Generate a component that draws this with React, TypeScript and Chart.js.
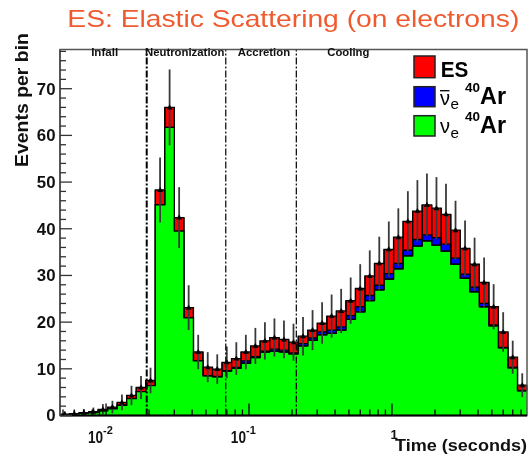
import React, { useEffect, useRef } from 'react';
import { Chart, registerables } from 'chart.js';

Chart.register(...registerables);

// ---------------- data ----------------
const binsPerDecade = 15;
const firstEdgeLog10 = -2.322;

// green: nu_e 40Ar
const nueAr = [
  0.2, 0.3, 0.45, 0.6, 1.0, 1.4, 2.2, 3.6, 5.1, 6.4,
  45.1, 61.7, 39.5, 20.9, 11.7, 8.5, 8.3, 9.5, 10.1, 11.2,
  12.4, 13.6, 13.8, 13.6, 13.2, 14.9, 16.1, 17.3, 17.6, 18.3,
  20.6, 22.2, 24.6, 26.9, 29.2, 31.4, 34.2, 36.3, 37.4, 36.5,
  35.2, 32.4, 29.4, 26.5, 23.3, 19.2, 14.5, 10.2, 5.3,
];
// blue: anti-nu_e 40Ar
const nuebarAr = [
  0, 0, 0, 0, 0, 0, 0, 0, 0, 0,
  0, 0, 0, 0, 0, 0.05, 0.05, 0.1, 0.2, 0.5,
  0.2, 0.2, 0.4, 0.4, 0.2, 0.5, 0.5, 0.6, 0.7, 0.7,
  0.8, 1.1, 1.1, 1.0, 1.2, 1.2, 1.2, 1.4, 1.3, 1.6,
  1.5, 1.3, 0.9, 1.0, 0.7, 0.2, 0.1, 0.1, 0.05,
];
// red: ES
const esElectron = [
  0.1, 0.1, 0.15, 0.2, 0.3, 0.4, 0.6, 0.7, 0.9, 1.1,
  3.2, 4.3, 2.9, 2.2, 1.9, 1.8, 1.6, 1.8, 1.9, 1.9,
  2.3, 2.2, 2.5, 2.3, 2.3, 1.6, 1.7, 1.9, 3.0, 3.4,
  3.2, 3.9, 4.2, 4.7, 5.2, 5.6, 6.2, 6.1, 6.4, 6.3,
  6.4, 6.0, 5.5, 4.9, 4.5, 3.9, 3.3, 2.2, 1.15,
];

const yMax = 78.4;
const yTickValues = [0, 10, 20, 30, 40, 50, 60, 70];
const xMajorTicks = [0.01, 0.1, 1];
const xTickBase = ['10', '10', '1'];
const xTickExp = ['-2', '-1', ''];
const stageBoundaries = [0.01926, 0.0688, 0.2143];
const stageNames = ['Infall', 'Neutronization', 'Accretion', 'Cooling'];
const stageNameX = [0.00978, 0.0355, 0.1273, 0.495];

const titleText = 'ES: Elastic Scattering (on electrons)';
const xTitle = 'Time (seconds)';
const yTitle = 'Events per bin';

// ---------------- derived ----------------
const nBins = nueAr.length;
const edges = Array.from({ length: nBins + 1 }, (_, k) => Math.pow(10, firstEdgeLog10 + k / binsPerDecade));
const cumG = nueAr.slice();
const cumB = nueAr.map((v, i) => v + nuebarAr[i]);
const cumT = cumB.map((v, i) => v + esElectron[i]);
const toSteps = (vals: number[]) => [
  ...vals.map((v, i) => ({ x: edges[i], y: v })),
  { x: edges[nBins], y: vals[nBins - 1] },
];

const FONT = "'Liberation Sans', Arial, Helvetica, sans-serif";

function drawText(
  ctx: CanvasRenderingContext2D, s: string, x: number, y: number, font: string, color: string,
  align: 'left' | 'center' | 'right', width?: number, sx = 1,
) {
  ctx.save();
  ctx.font = font;
  ctx.fillStyle = color;
  ctx.textAlign = 'left';
  ctx.textBaseline = 'alphabetic';
  const m = ctx.measureText(s).width;
  const k = width ? width / m : sx;
  const w = m * k;
  const left = align === 'left' ? x : align === 'center' ? x - w / 2 : x - w;
  ctx.translate(left, y);
  ctx.scale(k, 1);
  ctx.fillText(s, 0, 0);
  ctx.restore();
}

const decorPlugin = {
  id: 'decor',
  afterDatasetsDraw(chart: any) {
    const { ctx, chartArea: a } = chart;
    const xs = chart.scales.x;
    const ys = chart.scales.y;
    const px = (v: number) => xs.getPixelForValue(v);
    const py = (v: number) => ys.getPixelForValue(v);

    ctx.save();
    // box edges for red and blue parts
    ctx.strokeStyle = '#000';
    ctx.lineWidth = 1.2;
    for (let k = 0; k < nBins; k++) {
      const x0 = px(edges[k]);
      const x1 = px(edges[k + 1]);
      if (esElectron[k] > 0) {
        ctx.beginPath();
        ctx.moveTo(x0, py(cumB[k])); ctx.lineTo(x0, py(cumT[k]));
        ctx.moveTo(x1, py(cumB[k])); ctx.lineTo(x1, py(cumT[k]));
        ctx.stroke();
      }
      if (nuebarAr[k] > 0) {
        ctx.beginPath();
        ctx.moveTo(x0, py(cumG[k])); ctx.lineTo(x0, py(cumB[k]));
        ctx.moveTo(x1, py(cumG[k])); ctx.lineTo(x1, py(cumB[k]));
        ctx.stroke();
        ctx.beginPath();
        ctx.moveTo(x0, py(cumG[k])); ctx.lineTo(x1, py(cumG[k]));
        ctx.stroke();
      }
    }

    // error bars + markers
    for (let k = 0; k < nBins; k++) {
      const T = cumT[k];
      const e = Math.sqrt(T);
      const cx = px(Math.sqrt(edges[k] * edges[k + 1]));
      const y1 = Math.max(a.top, py(T + e));
      const y2 = Math.min(a.bottom, py(Math.max(0, T - e)));
      ctx.strokeStyle = '#3a3a3a';
      ctx.lineWidth = 1.8;
      ctx.beginPath();
      ctx.moveTo(cx, y1); ctx.lineTo(cx, y2);
      ctx.stroke();
      const yt = py(T);
      ctx.fillStyle = '#000';
      ctx.beginPath();
      ctx.moveTo(cx, yt - 3);
      ctx.lineTo(cx + 3, yt + 2);
      ctx.lineTo(cx - 3, yt + 2);
      ctx.closePath();
      ctx.fill();
    }

    // stage boundary lines
    stageBoundaries.forEach((v, i) => {
      const x = px(v);
      ctx.strokeStyle = '#000';
      ctx.lineWidth = i === 0 ? 2 : 1.2;
      ctx.setLineDash([7, 2, 2, 2]);
      ctx.beginPath();
      ctx.moveTo(x, a.bottom); ctx.lineTo(x, a.top);
      ctx.stroke();
    });
    ctx.setLineDash([]);

    // frame
    ctx.strokeStyle = '#555';
    ctx.lineWidth = 1.5;
    ctx.strokeRect(a.left, a.top, a.right - a.left, a.bottom - a.top);
    ctx.strokeStyle = '#555';
    ctx.lineWidth = 2;
    ctx.beginPath(); ctx.moveTo(a.left, a.top); ctx.lineTo(a.left, a.bottom); ctx.stroke();
    ctx.strokeStyle = '#000';
    ctx.beginPath(); ctx.moveTo(a.left, a.bottom); ctx.lineTo(a.right, a.bottom); ctx.stroke();

    // y ticks
    ctx.strokeStyle = '#333';
    ctx.lineWidth = 1.3;
    for (let v = 0; v <= yMax; v += 2) {
      const len = v % 10 === 0 ? 12 : 6;
      const y = py(v);
      ctx.beginPath(); ctx.moveTo(a.left, y); ctx.lineTo(a.left + len, y); ctx.stroke();
    }
    // x ticks
    ctx.strokeStyle = '#000';
    for (let d = -3; d <= 1; d++) {
      for (let m = 1; m <= 9; m++) {
        const v = m * Math.pow(10, d);
        if (v < edges[0] || v > edges[nBins]) continue;
        const len = m === 1 ? 12 : 6;
        const x = px(v);
        ctx.beginPath(); ctx.moveTo(x, a.bottom); ctx.lineTo(x, a.bottom - len); ctx.stroke();
      }
    }

    // y tick labels
    yTickValues.forEach((v) => {
      drawText(ctx, String(v), a.left - 4.5, py(v) + 5.8, `bold 16px ${FONT}`, '#111', 'right', undefined, 1.05);
    });
    // x tick labels
    xMajorTicks.forEach((v, i) => {
      const x = px(v);
      if (xTickExp[i]) {
        drawText(ctx, xTickBase[i], x - 3, 442.5, `bold 17px ${FONT}`, '#111', 'right', undefined, 0.8);
        drawText(ctx, xTickExp[i], x - 3, 433.5, `bold 11px ${FONT}`, '#111', 'left');
      } else {
        drawText(ctx, xTickBase[i], x - 1.5, 439, `bold 13px ${FONT}`, '#111', 'left');
      }
    });

    // axis titles
    drawText(ctx, xTitle, 527, 451, `bold 17px ${FONT}`, '#111', 'right', 132);
    ctx.save();
    ctx.translate(28, 100);
    ctx.rotate(-Math.PI / 2);
    drawText(ctx, yTitle, 0, 0, `bold 18px ${FONT}`, '#111', 'center', 134);
    ctx.restore();

    // stage names
    const stageW = [27, 79.4, 52.3, 42.1];
    stageNames.forEach((s, i) => {
      drawText(ctx, s, px(stageNameX[i]), 55.7, `bold 10px ${FONT}`, '#111', 'center', stageW[i]);
    });

    // main title
    drawText(ctx, titleText, 67.3, 26.7, `24px ${FONT}`, '#EF5B2F', 'left', 452);

    // legend
    const boxes: [string, number, number][] = [
      ['#ff0000', 56, 77.7],
      ['#0000ff', 86.7, 106.7],
      ['#00ff00', 115.7, 136],
    ];
    boxes.forEach(([c, t, b]) => {
      ctx.fillStyle = c;
      ctx.fillRect(414, t, 21, b - t);
      ctx.strokeStyle = '#222';
      ctx.lineWidth = 1.5;
      ctx.strokeRect(414, t, 21, b - t);
    });
    drawText(ctx, 'ES', 440.7, 76.5, `bold 22px ${FONT}`, '#000', 'left', 27.6);
    // anti nu_e
    ctx.strokeStyle = '#000';
    ctx.lineWidth = 1.3;
    ctx.beginPath(); ctx.moveTo(440, 90.7); ctx.lineTo(449.5, 90.7); ctx.stroke();
    drawText(ctx, '\u03bd', 440, 104.5, `20px ${FONT}`, '#000', 'left', 10);
    drawText(ctx, 'e', 450.5, 109, `15px ${FONT}`, '#000', 'left', 8.5);
    drawText(ctx, '40', 465, 92, `bold 13.5px ${FONT}`, '#000', 'left', 15);
    drawText(ctx, 'Ar', 480, 104, `bold 23px ${FONT}`, '#000', 'left', 26);
    // nu_e
    drawText(ctx, '\u03bd', 440, 132.5, `20px ${FONT}`, '#000', 'left', 10);
    drawText(ctx, 'e', 450.5, 137.5, `15px ${FONT}`, '#000', 'left', 8.5);
    drawText(ctx, '40', 465, 120.7, `bold 13.5px ${FONT}`, '#000', 'left', 15);
    drawText(ctx, 'Ar', 480, 133.3, `bold 23px ${FONT}`, '#000', 'left', 26);

    ctx.restore();
  },
};

export default function App() {
  const ref = useRef<HTMLCanvasElement>(null);
  useEffect(() => {
    const common = { borderColor: '#000', borderWidth: 1.3, stepped: 'before' as const, pointRadius: 0 };
    const chart = new Chart(ref.current!, {
      type: 'line',
      data: {
        datasets: [
          { ...common, label: 'nue 40Ar', data: toSteps(cumG), backgroundColor: '#00ff00', fill: 'origin' },
          { ...common, label: 'nuebar 40Ar', data: toSteps(cumB), backgroundColor: '#0000ff', fill: '-1' },
          { ...common, label: 'ES', data: toSteps(cumT), backgroundColor: '#ff0000', fill: '-1' },
        ],
      },
      options: {
        responsive: false,
        animation: false,
        events: [],
        layout: { padding: { left: 60, right: 2, top: 49.5, bottom: 40.5 } },
        scales: {
          x: { type: 'logarithmic', min: edges[0], max: edges[nBins], display: false },
          y: { type: 'linear', min: 0, max: yMax, display: false },
        },
        plugins: {
          legend: { display: false },
          tooltip: { enabled: false },
          title: { display: false },
        },
      },
      plugins: [decorPlugin],
    } as any);
    return () => chart.destroy();
  }, []);
  return (
    <canvas
      ref={ref}
      width={529}
      height={456}
      style={{ position: 'absolute', left: 0, top: 0, width: 529, height: 456, display: 'block' }}
    />
  );
}
